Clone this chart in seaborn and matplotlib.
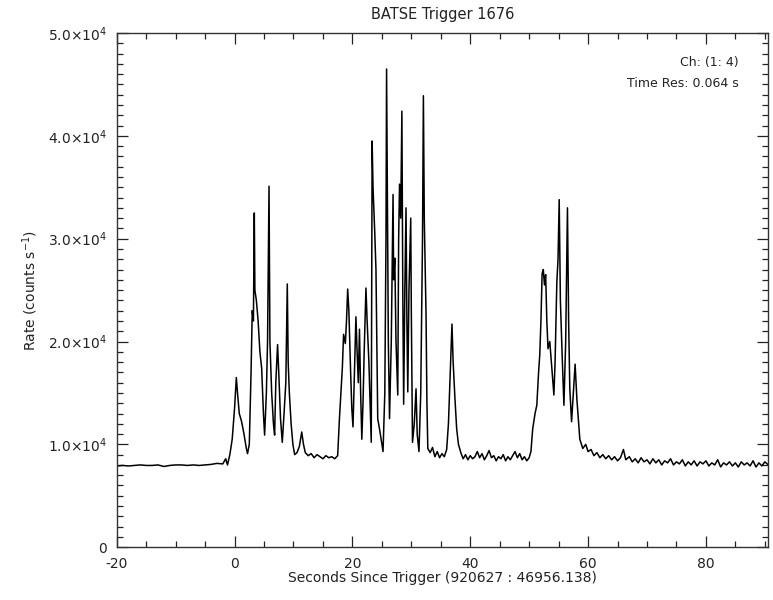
import matplotlib
matplotlib.use("Agg")
import matplotlib.pyplot as plt
import matplotlib.ticker as mticker
import seaborn as sns
import pandas as pd

# ---- data ----
pre_t = [-20, -19, -18, -17, -16, -15, -14, -13, -12, -11, -10, -9, -8, -7, -6, -5, -4, -3, -2]
pre_v = [7900, 7950, 7900, 7950, 8000, 7950, 7950, 8000, 7850, 7950, 8000, 8000, 7950, 8000, 7950,
         8000, 8050, 8150, 8100]

burst1_t = [-1.5, -1.2, -0.8, -0.4, 0.0, 0.3, 0.5, 0.8, 1.2, 1.6, 2.0, 2.2, 2.5, 2.8, 3.0, 3.2, 3.35,
            3.45, 3.7, 4.0, 4.3, 4.6, 4.9, 5.1, 5.4, 5.6, 5.85, 6.0, 6.3, 6.6, 6.8, 7.0, 7.3, 7.5, 7.8,
            8.1, 8.4, 8.7, 8.95, 9.1, 9.3, 9.6, 9.9, 10.2, 10.6, 11.0, 11.4, 11.7, 12.0, 12.5, 13.0,
            13.5, 14.0, 14.5, 15.0, 15.5, 16.0, 16.5, 17.0, 17.5]
burst1_v = [8600, 8000, 9000, 10500, 13500, 16500, 15000, 13000, 12200, 11000, 9600, 9100, 10000,
            17000, 23000, 22000, 32500, 25000, 24000, 22000, 19000, 17400, 13000, 10900, 15000, 20000,
            35100, 20000, 15000, 12000, 10900, 16000, 19700, 17000, 12500, 10200, 13000, 16000, 25600,
            18000, 15000, 12000, 10000, 9000, 9200, 9800, 11200, 10000, 9200, 8900, 9100, 8700, 9000,
            8800, 8600, 8900, 8700, 8800, 8600, 8900]

burst2_t = [17.8, 18.0, 18.3, 18.5, 18.8, 19.0, 19.2, 19.4, 19.7, 19.9, 20.1, 20.3, 20.6, 20.8, 21.0,
            21.2, 21.4, 21.6, 21.8, 22.0, 22.3, 22.5, 22.8, 23.0, 23.2, 23.35, 23.5, 23.8, 24.0, 24.3,
            24.6, 25.0, 25.2, 25.5, 25.7, 25.8, 25.95, 26.1, 26.3, 26.6, 26.9, 27.0, 27.2, 27.4, 27.7,
            27.85, 28.0, 28.2, 28.4, 28.55, 28.7, 28.9, 29.1, 29.25, 29.4, 29.6, 29.9, 30.0, 30.2,
            30.5, 30.8, 31.0, 31.3, 31.6, 31.9, 32.05, 32.2, 32.5, 32.65, 32.8, 33.2, 33.6, 34.0,
            34.4, 34.8, 35.2, 35.6, 36.0, 36.3, 36.6, 36.9, 37.1, 37.4, 37.7, 38.0]
burst2_v = [12500, 14500, 17500, 20700, 19800, 22000, 25100, 23000, 17000, 13500, 11700, 16000, 22400,
            19000, 16000, 21200, 15000, 10500, 14000, 19000, 25200, 22000, 18000, 14000, 10200, 39500,
            35000, 30500, 27000, 12500, 11500, 10000, 9300, 15000, 30000, 46500, 33000, 20000, 12500,
            20000, 34300, 26000, 28100, 20000, 14800, 30000, 35300, 32000, 42400, 25000, 13900, 25000,
            33000, 22000, 15100, 25000, 32000, 23000, 10200, 12000, 15400, 11000, 9300, 15000, 30000,
            43900, 32000, 22600, 14000, 9600, 9200, 9700, 8800, 9300, 8700, 9100, 8800, 9500, 12000,
            17000, 21700, 18000, 14500, 11500, 10000]

quiet_t = [38.4, 38.8, 39.2, 39.6, 40.0, 40.4, 40.8, 41.2, 41.6, 42.0, 42.4, 42.8, 43.2, 43.6, 44.0,
           44.4, 44.8, 45.2, 45.6, 46.0, 46.4, 46.8, 47.2, 47.6, 48.0, 48.4, 48.8, 49.2, 49.6, 50.0,
           50.3]
quiet_v = [9200, 8600, 9000, 8500, 8900, 8600, 8800, 9300, 8700, 9100, 8500, 8900, 9400, 8700, 8900,
           8400, 8800, 8600, 9000, 8400, 8800, 8500, 8900, 9300, 8700, 9100, 8500, 8800, 8400, 8700,
           9300]

burst3_t = [50.6, 51.0, 51.3, 51.6, 51.8, 52.0, 52.2, 52.4, 52.6, 52.8, 53.0, 53.2, 53.5, 53.9, 54.2,
            54.4, 54.7, 54.9, 55.1, 55.3, 55.6, 55.9, 56.2, 56.5, 56.7, 56.9, 57.2, 57.5, 57.8, 58.1,
            58.4, 58.6, 59.1, 59.6]
burst3_v = [11500, 13000, 13800, 17000, 18700, 22000, 26600, 27000, 25500, 26500, 22000, 19300, 20000,
            17100, 14800, 18000, 25800, 28000, 33800, 24000, 18700, 13800, 20000, 33000, 22000, 15400,
            12200, 15000, 17800, 14400, 12000, 10500, 9600, 10000]

tail_t = [60.0, 60.5, 61.0, 61.5, 62.0, 62.5, 63.0, 63.5, 64.0, 64.5, 65.0, 65.5, 66.0, 66.4, 67.0,
          67.5, 68.0, 68.5, 69.0, 69.5, 70.0, 70.5, 71.0, 71.5, 72.0, 72.5, 73.0, 73.5, 74.0, 74.5,
          75.0, 75.5, 76.0, 76.5, 77.0, 77.5, 78.0, 78.5, 79.0, 79.5, 80.0, 80.5, 81.0, 81.5, 82.0,
          82.5, 83.0, 83.5, 84.0, 84.5, 85.0, 85.5, 86.0, 86.5, 87.0, 87.5, 88.0, 88.5, 89.0, 89.5,
          90.0, 90.6]
tail_v = [9300, 9500, 8900, 9200, 8700, 9000, 8600, 8900, 8500, 8800, 8400, 8700, 9500, 8500, 8800,
          8300, 8600, 8200, 8700, 8300, 8500, 8100, 8600, 8200, 8500, 8000, 8400, 8200, 8600, 8000,
          8300, 8100, 8500, 7900, 8300, 8000, 8400, 7900, 8300, 8100, 8400, 7900, 8200, 8000, 8500,
          7800, 8200, 8000, 8300, 7900, 8200, 7800, 8300, 8000, 8200, 7900, 8400, 7800, 8200, 7900,
          8300, 8000]

title = "BATSE Trigger 1676"
xlabel = "Seconds Since Trigger (920627 : 46956.138)"
ylabel = r"Rate (counts s$^{-1}$)"
info_lines = ["Ch: (1: 4)", "Time Res: 0.064 s"]
x_ticks = [-20, 0, 20, 40, 60, 80]
y_ticks = [0, 10000, 20000, 30000, 40000, 50000]

times = pre_t + burst1_t + burst2_t + quiet_t + burst3_t + tail_t
rates = pre_v + burst1_v + burst2_v + quiet_v + burst3_v + tail_v
df = pd.DataFrame({"t": times, "rate": rates})

sns.set_style("ticks")
plt.rcParams["font.family"] = ["DejaVu Sans"]

fig = plt.figure(figsize=(7.73, 6.0), dpi=100)
ax = fig.add_axes([0.151, 0.088, 0.843, 0.857])

sns.lineplot(data=df, x="t", y="rate", ax=ax, color="black", linewidth=1.1,
             estimator=None, sort=False)

ax.set_xlim(-20, 90.6)
ax.set_ylim(0, 50000)
ax.set_xticks(x_ticks)
ax.set_yticks(y_ticks)
ax.xaxis.set_minor_locator(mticker.MultipleLocator(5))
ax.yaxis.set_minor_locator(mticker.MultipleLocator(1000))


def yfmt(v, pos):
    if v == 0:
        return "0"
    m = v / 1e4
    return r"%.1f$\times$10$^{4}$" % m


ax.yaxis.set_major_formatter(mticker.FuncFormatter(yfmt))
ax.xaxis.set_major_formatter(mticker.FuncFormatter(lambda v, p: "%d" % v))

ax.tick_params(which="both", direction="in", top=True, right=True, colors="#222222",
               labelsize=10, width=0.9)
ax.tick_params(which="major", length=8)
ax.tick_params(which="minor", length=4)
ax.tick_params(axis="x", which="major", pad=7)
ax.tick_params(axis="y", which="major", pad=7)
for s in ax.spines.values():
    s.set_visible(True)
    s.set_linewidth(1.0)
    s.set_color("#333333")

ax.set_title(title, fontsize=10.5, color="#222222", pad=10)
ax.set_xlabel(xlabel, fontsize=10, color="#222222", labelpad=0)
ax.set_ylabel(ylabel, fontsize=10, color="#222222", labelpad=6)

ax.text(0.955, 0.955, info_lines[0], transform=ax.transAxes, ha="right", va="top",
        fontsize=9, color="#222222")
ax.text(0.955, 0.915, info_lines[1], transform=ax.transAxes, ha="right", va="top",
        fontsize=9, color="#222222")

fig.savefig("out.png", dpi=100)
